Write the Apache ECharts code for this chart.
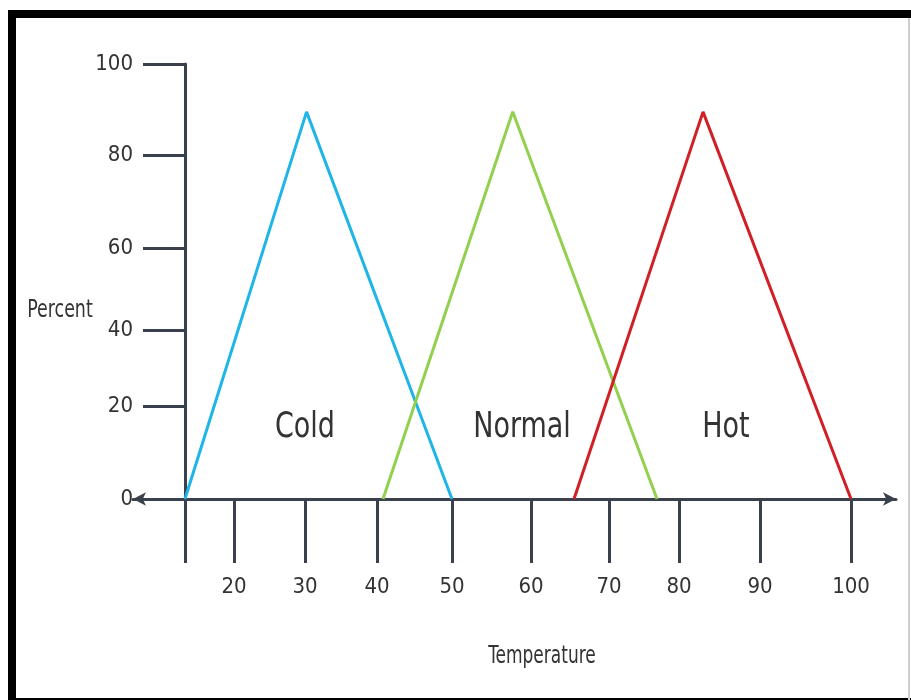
<!DOCTYPE html>
<html>
<head>
<meta charset="utf-8">
<script src="https://cdn.jsdelivr.net/npm/echarts@6/dist/echarts.min.js"></script>
<style>
html,body{margin:0;padding:0;background:#fff;}
#chart{width:911px;height:700px;}
</style>
</head>
<body>
<div id="chart"></div>
<script>
// Temperature axis (the reference axis is hand-drawn, ticks are unevenly spaced)
var xTickValues = [13.65, 20.02, 29.24, 38.59, 48.33, 58.59, 68.73, 77.82, 88.34, 100.16];
var xTickLabels = ['', '20', '30', '40', '50', '60', '70', '80', '90', '100'];
// Percent axis
var yTickValues = [0, 21.4, 38.9, 57.7, 79.1, 100];
var yTickLabels = ['0', '20', '40', '60', '80', '100'];

// Membership triangles: [temperature, percent]
var coldData = [[13.65, 0], [29.44, 89], [48.33, 0]];
var normalData = [[39.37, 0], [56.22, 89], [74.96, 0]];
var hotData = [[64.18, 0], [80.94, 89], [100.16, 0]];

var seriesNames = ['Cold', 'Normal', 'Hot'];
var seriesColors = ['#1fb5e6', '#92d050', '#d11f26'];
var axisTitles = ['Percent', 'Temperature'];

var FONT = '"Liberation Sans Narrow", "DejaVu Sans Condensed", "Liberation Sans", sans-serif';
var TEXT = '#333333';
var AXIS = '#3a404c';

function lookup(vals, labels, v) {
  var best = 0, d = Infinity;
  for (var i = 0; i < vals.length; i++) {
    var dd = Math.abs(vals[i] - v);
    if (dd < d) { d = dd; best = i; }
  }
  return labels[best];
}

var chart = echarts.init(document.getElementById('chart'), null, {renderer: 'canvas'});
var datasets = [coldData, normalData, hotData];

chart.setOption({
  animation: false,
  backgroundColor: '#ffffff',
  grid: {left: 133, right: 15, top: 64, bottom: 201},
  xAxis: {
    type: 'value',
    min: 6.9,
    max: 106,
    splitLine: {show: false},
    axisLine: {show: true, symbol: ['arrow', 'arrow'], symbolSize: [10, 13], lineStyle: {color: AXIS, width: 3}},
    axisTick: {show: true, customValues: xTickValues, length: 64, inside: false, lineStyle: {color: AXIS, width: 3}},
    axisLabel: {
      show: true,
      customValues: xTickValues.slice(1),
      margin: 77,
      fontFamily: FONT, fontSize: 22, color: TEXT,
      formatter: function (v) { return lookup(xTickValues, xTickLabels, v); }
    }
  },
  yAxis: {
    type: 'value',
    min: 0,
    max: 100,
    offset: -52,
    splitLine: {show: false},
    axisLine: {show: true, lineStyle: {color: AXIS, width: 3}},
    axisTick: {show: true, customValues: yTickValues.slice(1), length: 42, inside: false, lineStyle: {color: AXIS, width: 3}},
    axisLabel: {
      show: true,
      customValues: yTickValues,
      margin: 52,
      fontFamily: FONT, fontSize: 22, color: TEXT,
      formatter: function (v) { return lookup(yTickValues, yTickLabels, v); }
    }
  },
  series: seriesNames.map(function (name, i) {
    return {
      name: name,
      type: 'line',
      data: datasets[i],
      showSymbol: false,
      symbol: 'none',
      lineStyle: {color: seriesColors[i], width: 3},
      z: 3
    };
  }),
  graphic: [
    {type: 'rect', shape: {x: 8, y: 10, width: 903, height: 8}, style: {fill: '#000'}},
    {type: 'rect', shape: {x: 8, y: 10, width: 8, height: 690}, style: {fill: '#000'}},
    {type: 'rect', shape: {x: 8, y: 698, width: 903, height: 2}, style: {fill: '#000'}},
    {type: 'rect', shape: {x: 908, y: 18, width: 2, height: 682}, style: {fill: '#d0d0d0'}},
    {type: 'text', x: 60, y: 310, scaleX: 0.88, scaleY: 1.15, style: {text: axisTitles[0], font: '22px ' + FONT, fill: TEXT, textAlign: 'center', textVerticalAlign: 'middle'}},
    {type: 'text', x: 542, y: 656, scaleX: 0.86, scaleY: 1.15, style: {text: axisTitles[1], font: '22px ' + FONT, fill: TEXT, textAlign: 'center', textVerticalAlign: 'middle'}},
    {type: 'text', x: 305, y: 428, scaleY: 1.2, style: {text: seriesNames[0], font: '30px ' + FONT, fill: TEXT, textAlign: 'center', textVerticalAlign: 'middle'}},
    {type: 'text', x: 522, y: 428, scaleY: 1.2, style: {text: seriesNames[1], font: '30px ' + FONT, fill: TEXT, textAlign: 'center', textVerticalAlign: 'middle'}},
    {type: 'text', x: 726, y: 428, scaleY: 1.2, style: {text: seriesNames[2], font: '30px ' + FONT, fill: TEXT, textAlign: 'center', textVerticalAlign: 'middle'}}
  ]
});
</script>
</body>
</html>
